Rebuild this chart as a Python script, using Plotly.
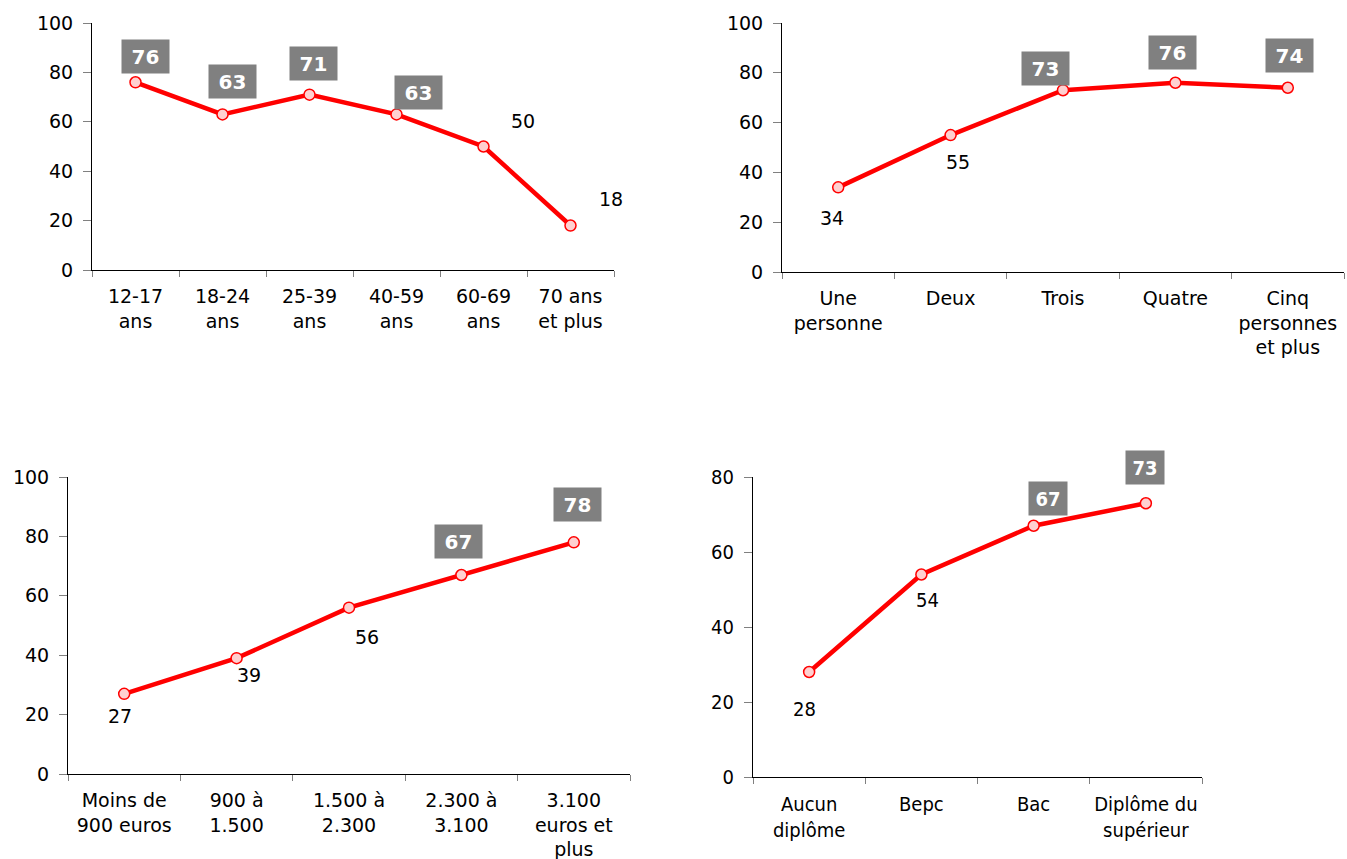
import plotly.graph_objects as go

W, H = 1347, 859

# ---------------- data ----------------
age_cats = ["12-17<br>ans", "18-24<br>ans", "25-39<br>ans", "40-59<br>ans", "60-69<br>ans", "70 ans<br>et plus"]
age_vals = [76, 63, 71, 63, 50, 18]

foyer_cats = ["Une<br>personne", "Deux", "Trois", "Quatre", "Cinq<br>personnes<br>et plus"]
foyer_vals = [34, 55, 73, 76, 74]

revenu_cats = ["Moins de<br>900 euros", "900 à<br>1.500", "1.500 à<br>2.300", "2.300 à<br>3.100", "3.100<br>euros et<br>plus"]
revenu_vals = [27, 39, 56, 67, 78]

diplome_cats = ["Aucun<br>diplôme", "Bepc", "Bac", "Diplôme du<br>supérieur"]
diplome_vals = [28, 54, 67, 73]

HIGHLIGHT_MIN = 60  # values above this get a grey box label

# ---------------- styling / layout (pixels) ----------------
FONT = "DejaVu Sans, Verdana, sans-serif"
FONT_COND = "DejaVu Sans Condensed, DejaVu Sans, sans-serif"
panels = [
    dict(cats=age_cats, vals=age_vals, x0=92, x1=614, yt=23, yb=270, ymax=100,
         font=FONT, boxw=47, fs=19,
         off=[(10, 26), (10, 33), (4, 31), (22, 22), (39, 25), (40, 27)]),
    dict(cats=foyer_cats, vals=foyer_vals, x0=782, x1=1344, yt=23, yb=272, ymax=100,
         font=FONT, boxw=47, fs=19,
         off=[(-6, -31), (7, -27), (-18, 22), (-3, 30), (2, 32)]),
    dict(cats=revenu_cats, vals=revenu_vals, x0=68, x1=630, yt=477, yb=774, ymax=100,
         font=FONT, boxw=47, fs=19,
         off=[(-4, -22), (12, -17), (18, -29), (-3, 34), (4, 38)]),
    dict(cats=diplome_cats, vals=diplome_vals, x0=753, x1=1202, yt=477, yb=777, ymax=80,
         font=FONT_COND, boxw=38, fs=20,
         off=[(-5, -37), (6, -25), (14, 27), (-1, 36)]),
]

fig = go.Figure()
layout = dict(
    width=W, height=H,
    margin=dict(l=0, r=0, t=0, b=0, autoexpand=False),
    paper_bgcolor="white", plot_bgcolor="white",
    showlegend=False,
    font=dict(family=FONT, color="black"),
)
annotations = []

for i, p in enumerate(panels, start=1):
    sfx = "" if i == 1 else str(i)
    xa, ya = "x" + sfx, "y" + sfx
    fig.add_trace(go.Scatter(
        x=p["cats"], y=p["vals"], xaxis=xa, yaxis=ya,
        mode="lines+markers",
        line=dict(color="#ff0000", width=4.5),
        marker=dict(symbol="circle", size=11, color="#ffd0d0",
                    line=dict(color="#ff0000", width=1.5)),
        hoverinfo="skip", cliponaxis=False,
    ))
    layout["xaxis" + sfx] = dict(
        domain=[p["x0"] / W, p["x1"] / W], anchor=ya, automargin=False,
        type="category", range=[-0.5, len(p["cats"]) - 0.5],
        showline=True, linecolor="black", linewidth=1,
        ticks="outside", ticklen=6, tickcolor="#808080", tickwidth=1,
        tickson="boundaries", showgrid=False, zeroline=False, tickangle=0,
        tickfont=dict(family=p["font"], size=p["fs"], color="black"),
        ticklabelstandoff=9, fixedrange=True,
    )
    layout["yaxis" + sfx] = dict(
        domain=[1 - p["yb"] / H, 1 - p["yt"] / H], anchor=xa, automargin=False,
        range=[0, p["ymax"]], dtick=20,
        showline=True, linecolor="black", linewidth=1,
        ticks="outside", ticklen=8, tickcolor="#808080", tickwidth=1,
        showgrid=False, zeroline=False,
        tickfont=dict(family=p["font"], size=p["fs"], color="black"),
        ticklabelstandoff=6, fixedrange=True,
    )
    for c, v, (dx, dy) in zip(p["cats"], p["vals"], p["off"]):
        boxed = v > HIGHLIGHT_MIN
        ann = dict(
            x=c, y=v, xref=xa, yref=ya, text=str(v) if not boxed else "<b>%d</b>" % v,
            showarrow=False, xshift=dx, yshift=dy,
            xanchor="center", yanchor="middle",
            font=dict(family=p["font"], size=20 if boxed else p["fs"],
                      color="white" if boxed else "black"),
        )
        if boxed:
            ann.update(bgcolor="#808080", width=p["boxw"], height=33, borderpad=0)
        annotations.append(ann)

layout["annotations"] = annotations
fig.update_layout(**layout)
fig.write_html(
    "out.html",
    config={"displayModeBar": False},
    post_script=(
        "var gd=document.getElementById('{plot_id}');"
        "gd.style.position='fixed';gd.style.top='0';gd.style.left='0';"
        "document.body.style.margin='0';document.body.style.overflow='hidden';"
    ),
)
